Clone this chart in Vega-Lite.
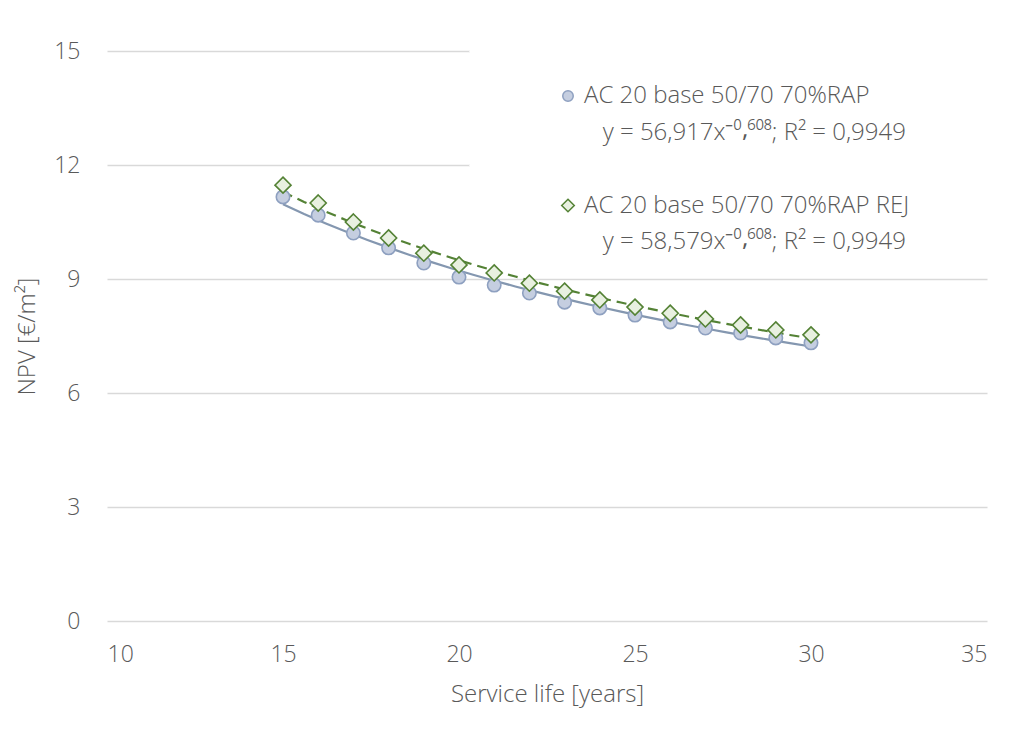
{
  "$schema": "https://vega.github.io/schema/vega-lite/v6.json",
  "width": 880,
  "height": 570,
  "autosize": {"type": "none"},
  "padding": {"left": 107, "top": 51, "right": 26, "bottom": 130},
  "background": "white",
  "config": {
    "view": {"stroke": null},
    "font": "Open Sans",
    "axis": {"labelFont": "Open Sans", "titleFont": "Open Sans", "labelColor": "#595959", "titleColor": "#595959", "labelFontSize": 23, "titleFontSize": 24, "labelFontWeight": 300, "titleFontWeight": 300}
  },
  "data": {
    "values": [
      {"life": 15, "npv": 11.16, "series": "AC 20 base 50/70 70%RAP"},
      {"life": 16, "npv": 10.68, "series": "AC 20 base 50/70 70%RAP"},
      {"life": 17, "npv": 10.21, "series": "AC 20 base 50/70 70%RAP"},
      {"life": 18, "npv": 9.82, "series": "AC 20 base 50/70 70%RAP"},
      {"life": 19, "npv": 9.42, "series": "AC 20 base 50/70 70%RAP"},
      {"life": 20, "npv": 9.05, "series": "AC 20 base 50/70 70%RAP"},
      {"life": 21, "npv": 8.84, "series": "AC 20 base 50/70 70%RAP"},
      {"life": 22, "npv": 8.63, "series": "AC 20 base 50/70 70%RAP"},
      {"life": 23, "npv": 8.39, "series": "AC 20 base 50/70 70%RAP"},
      {"life": 24, "npv": 8.24, "series": "AC 20 base 50/70 70%RAP"},
      {"life": 25, "npv": 8.05, "series": "AC 20 base 50/70 70%RAP"},
      {"life": 26, "npv": 7.87, "series": "AC 20 base 50/70 70%RAP"},
      {"life": 27, "npv": 7.71, "series": "AC 20 base 50/70 70%RAP"},
      {"life": 28, "npv": 7.58, "series": "AC 20 base 50/70 70%RAP"},
      {"life": 29, "npv": 7.45, "series": "AC 20 base 50/70 70%RAP"},
      {"life": 30, "npv": 7.32, "series": "AC 20 base 50/70 70%RAP"},
      {"life": 15, "npv": 11.47, "series": "AC 20 base 50/70 70%RAP REJ"},
      {"life": 16, "npv": 11.0, "series": "AC 20 base 50/70 70%RAP REJ"},
      {"life": 17, "npv": 10.5, "series": "AC 20 base 50/70 70%RAP REJ"},
      {"life": 18, "npv": 10.08, "series": "AC 20 base 50/70 70%RAP REJ"},
      {"life": 19, "npv": 9.68, "series": "AC 20 base 50/70 70%RAP REJ"},
      {"life": 20, "npv": 9.37, "series": "AC 20 base 50/70 70%RAP REJ"},
      {"life": 21, "npv": 9.16, "series": "AC 20 base 50/70 70%RAP REJ"},
      {"life": 22, "npv": 8.89, "series": "AC 20 base 50/70 70%RAP REJ"},
      {"life": 23, "npv": 8.68, "series": "AC 20 base 50/70 70%RAP REJ"},
      {"life": 24, "npv": 8.45, "series": "AC 20 base 50/70 70%RAP REJ"},
      {"life": 25, "npv": 8.26, "series": "AC 20 base 50/70 70%RAP REJ"},
      {"life": 26, "npv": 8.1, "series": "AC 20 base 50/70 70%RAP REJ"},
      {"life": 27, "npv": 7.95, "series": "AC 20 base 50/70 70%RAP REJ"},
      {"life": 28, "npv": 7.79, "series": "AC 20 base 50/70 70%RAP REJ"},
      {"life": 29, "npv": 7.66, "series": "AC 20 base 50/70 70%RAP REJ"},
      {"life": 30, "npv": 7.53, "series": "AC 20 base 50/70 70%RAP REJ"}
    ]
  },
  "encoding": {
    "x": {
      "field": "life", "type": "quantitative",
      "scale": {"domain": [10, 35], "nice": false, "zero": false},
      "axis": {"title": "Service life [years]", "values": [10, 15, 20, 25, 30, 35], "grid": false, "domain": false, "ticks": false, "labelPadding": 22, "titlePadding": 16}
    },
    "y": {
      "field": "npv", "type": "quantitative",
      "scale": {"domain": [0, 15], "nice": false},
      "axis": {"title": "NPV [€/m²]", "values": [0, 3, 6, 9, 12, 15], "grid": true, "gridColor": "#D9D9D9", "gridWidth": 1.3, "domain": false, "ticks": false, "labelPadding": 27, "titlePadding": 14}
    }
  },
  "layer": [
    {
      "mark": {"type": "rect", "fill": "white"},
      "encoding": {
        "x": {"datum": 20.31, "type": "quantitative"},
        "x2": {"datum": 36},
        "y": {"datum": 9.25, "type": "quantitative"},
        "y2": {"datum": 15.5}
      }
    },
    {
      "transform": [
        {"filter": "datum.series === 'AC 20 base 50/70 70%RAP'"},
        {"regression": "npv", "on": "life", "method": "pow"}
      ],
      "mark": {"type": "line", "stroke": "#8497B0", "strokeWidth": 2.2},
      "encoding": {}
    },
    {
      "transform": [
        {"filter": "datum.series === 'AC 20 base 50/70 70%RAP REJ'"},
        {"regression": "npv", "on": "life", "method": "pow"}
      ],
      "mark": {"type": "line", "stroke": "#548235", "strokeWidth": 2.2, "strokeDash": [10, 6]},
      "encoding": {}
    },
    {
      "mark": {"type": "point", "filled": false, "opacity": 1, "strokeWidth": 1.6, "size": 180},
      "encoding": {
        "shape": {
          "field": "series", "type": "nominal",
          "scale": {"domain": ["AC 20 base 50/70 70%RAP", "eq1", "gap", "AC 20 base 50/70 70%RAP REJ", "eq2"], "range": ["circle", "circle", "circle", "M0,-1.2L1.2,0L0,1.2L-1.2,0Z", "circle"]},
          "legend": {
            "title": null, "orient": "none", "legendX": 449, "legendY": 33,
            "symbolSize": 110, "symbolStrokeWidth": 1.5, "padding": 0, "rowPadding": 12.5,
            "labelFont": "Open Sans", "labelFontWeight": 300, "labelFontSize": 24, "labelColor": "#595959", "labelOffset": 4, "labelLimit": 600,
            "labelExpr": "datum.label === 'eq1' ? '\u200b\u00a0\u00a0\u00a0y = 56,917x\u207b\u2070\u2e34\u2076\u2070\u2078; R\u00b2 = 0,9949' : datum.label === 'eq2' ? '\u200b\u00a0\u00a0\u00a0y = 58,579x\u207b\u2070\u2e34\u2076\u2070\u2078; R\u00b2 = 0,9949' : datum.label === 'gap' ? '\u200b' : datum.label"
          }
        },
        "fill": {
          "field": "series", "type": "nominal",
          "scale": {"domain": ["AC 20 base 50/70 70%RAP", "eq1", "gap", "AC 20 base 50/70 70%RAP REJ", "eq2"], "range": ["#C5CEE0", "transparent", "transparent", "#E8F0E0", "transparent"]},
          "legend": {
            "title": null, "orient": "none", "legendX": 449, "legendY": 33,
            "symbolSize": 110, "symbolStrokeWidth": 1.5, "padding": 0, "rowPadding": 12.5,
            "labelFont": "Open Sans", "labelFontWeight": 300, "labelFontSize": 24, "labelColor": "#595959", "labelOffset": 4, "labelLimit": 600,
            "labelExpr": "datum.label === 'eq1' ? '\u200b\u00a0\u00a0\u00a0y = 56,917x\u207b\u2070\u2e34\u2076\u2070\u2078; R\u00b2 = 0,9949' : datum.label === 'eq2' ? '\u200b\u00a0\u00a0\u00a0y = 58,579x\u207b\u2070\u2e34\u2076\u2070\u2078; R\u00b2 = 0,9949' : datum.label === 'gap' ? '\u200b' : datum.label"
          }
        },
        "stroke": {
          "field": "series", "type": "nominal",
          "scale": {"domain": ["AC 20 base 50/70 70%RAP", "eq1", "gap", "AC 20 base 50/70 70%RAP REJ", "eq2"], "range": ["#8EA0C0", "transparent", "transparent", "#548235", "transparent"]},
          "legend": {
            "title": null, "orient": "none", "legendX": 449, "legendY": 33,
            "symbolSize": 110, "symbolStrokeWidth": 1.5, "padding": 0, "rowPadding": 12.5,
            "labelFont": "Open Sans", "labelFontWeight": 300, "labelFontSize": 24, "labelColor": "#595959", "labelOffset": 4, "labelLimit": 600,
            "labelExpr": "datum.label === 'eq1' ? '\u200b\u00a0\u00a0\u00a0y = 56,917x\u207b\u2070\u2e34\u2076\u2070\u2078; R\u00b2 = 0,9949' : datum.label === 'eq2' ? '\u200b\u00a0\u00a0\u00a0y = 58,579x\u207b\u2070\u2e34\u2076\u2070\u2078; R\u00b2 = 0,9949' : datum.label === 'gap' ? '\u200b' : datum.label"
          }
        }
      }
    }
  ]
}
